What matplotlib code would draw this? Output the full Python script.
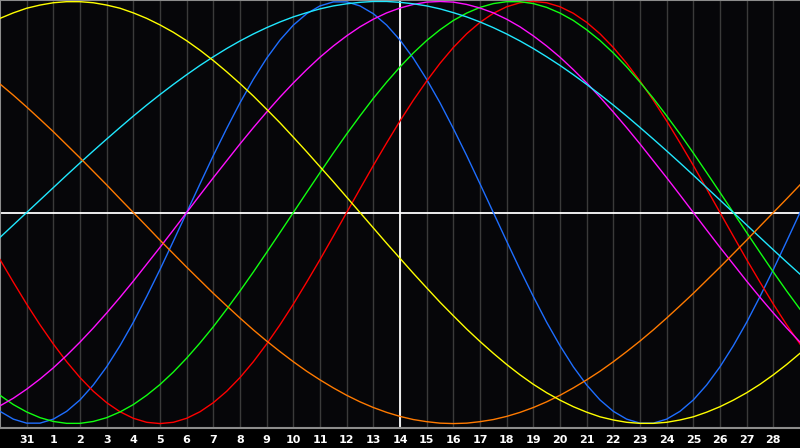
import matplotlib.pyplot as plt

# days shown under the grid (30 Jan .. 1 Mar, today is the 14th in the middle)
day_labels = ['31', '1', '2', '3', '4', '5', '6', '7', '8', '9', '10', '11', '12', '13', '14',
              '15', '16', '17', '18', '19', '20', '21', '22', '23', '24', '25', '26', '27', '28']

# cycle values read every half day, from the left edge to the right edge (61 samples)
physical = [-0.942, -0.979, -0.998, -0.998, -0.979, -0.942, -0.888, -0.817, -0.731, -0.631, -0.520, -0.398,
            -0.270, -0.136, 0.000, 0.136, 0.270, 0.398, 0.520, 0.631, 0.731, 0.817, 0.888, 0.942, 0.979, 0.998,
            0.998, 0.979, 0.942, 0.888, 0.817, 0.731, 0.631, 0.520, 0.398, 0.270, 0.136, 0.000, -0.136, -0.270,
            -0.398, -0.520, -0.631, -0.731, -0.817, -0.888, -0.942, -0.979, -0.998, -0.998, -0.979, -0.942,
            -0.888, -0.817, -0.731, -0.631, -0.520, -0.398, -0.270, -0.136, 0.000]
emotional = [-0.223, -0.330, -0.434, -0.532, -0.623, -0.707, -0.782, -0.847, -0.901, -0.944, -0.975, -0.994,
             -1.000, -0.994, -0.975, -0.944, -0.901, -0.847, -0.782, -0.707, -0.623, -0.532, -0.434, -0.330,
             -0.223, -0.112, 0.000, 0.112, 0.223, 0.330, 0.434, 0.532, 0.623, 0.707, 0.782, 0.847, 0.901, 0.944,
             0.975, 0.994, 1.000, 0.994, 0.975, 0.944, 0.901, 0.847, 0.782, 0.707, 0.623, 0.532, 0.434, 0.330,
             0.223, 0.112, 0.000, -0.112, -0.223, -0.330, -0.434, -0.532, -0.623]
intellectual = [-0.866, -0.910, -0.945, -0.972, -0.990, -0.999, -0.999, -0.990, -0.972, -0.945, -0.910, -0.866,
                -0.815, -0.756, -0.690, -0.618, -0.541, -0.458, -0.372, -0.282, -0.189, -0.095, 0.000, 0.095,
                0.189, 0.282, 0.372, 0.458, 0.541, 0.618, 0.690, 0.756, 0.815, 0.866, 0.910, 0.945, 0.972, 0.990,
                0.999, 0.999, 0.990, 0.972, 0.945, 0.910, 0.866, 0.815, 0.756, 0.690, 0.618, 0.541, 0.458, 0.372,
                0.282, 0.189, 0.095, 0.000, -0.095, -0.189, -0.282, -0.372, -0.458]
intuitive = [-0.916, -0.880, -0.837, -0.789, -0.736, -0.677, -0.614, -0.547, -0.476, -0.402, -0.325, -0.245,
             -0.165, -0.083, 0.000, 0.083, 0.165, 0.245, 0.325, 0.402, 0.476, 0.547, 0.614, 0.677, 0.736, 0.789,
             0.837, 0.880, 0.916, 0.946, 0.969, 0.986, 0.997, 1.000, 0.997, 0.986, 0.969, 0.946, 0.916, 0.880,
             0.837, 0.789, 0.736, 0.677, 0.614, 0.547, 0.476, 0.402, 0.325, 0.245, 0.165, 0.083, 0.000, -0.083,
             -0.165, -0.245, -0.325, -0.402, -0.476, -0.547, -0.614]
spiritual = [-0.118, -0.059, 0.000, 0.059, 0.118, 0.177, 0.235, 0.292, 0.348, 0.403, 0.457, 0.509, 0.559, 0.607,
             0.653, 0.697, 0.738, 0.777, 0.813, 0.846, 0.876, 0.903, 0.927, 0.947, 0.965, 0.979, 0.989, 0.996,
             1.000, 1.000, 0.996, 0.989, 0.979, 0.965, 0.947, 0.927, 0.903, 0.876, 0.846, 0.813, 0.777, 0.738,
             0.697, 0.653, 0.607, 0.559, 0.509, 0.457, 0.403, 0.348, 0.292, 0.235, 0.177, 0.118, 0.059, 0.000,
             -0.059, -0.118, -0.177, -0.235, -0.292]
awareness = [0.609, 0.556, 0.500, 0.442, 0.383, 0.321, 0.259, 0.195, 0.131, 0.065, 0.000, -0.065, -0.131, -0.195,
             -0.259, -0.321, -0.383, -0.442, -0.500, -0.556, -0.609, -0.659, -0.707, -0.752, -0.793, -0.831,
             -0.866, -0.897, -0.924, -0.947, -0.966, -0.981, -0.991, -0.998, -1.000, -0.998, -0.991, -0.981,
             -0.966, -0.947, -0.924, -0.897, -0.866, -0.831, -0.793, -0.752, -0.707, -0.659, -0.609, -0.556,
             -0.500, -0.442, -0.383, -0.321, -0.259, -0.195, -0.131, -0.065, 0.000, 0.065, 0.131]
aesthetic = [0.920, 0.946, 0.968, 0.983, 0.994, 0.999, 0.999, 0.994, 0.983, 0.968, 0.946, 0.920, 0.889, 0.854,
             0.814, 0.769, 0.720, 0.667, 0.611, 0.552, 0.489, 0.425, 0.357, 0.288, 0.217, 0.146, 0.073, 0.000,
             -0.073, -0.146, -0.217, -0.288, -0.357, -0.425, -0.489, -0.552, -0.611, -0.667, -0.720, -0.769,
             -0.814, -0.854, -0.889, -0.920, -0.946, -0.968, -0.983, -0.994, -0.999, -0.999, -0.994, -0.983,
             -0.968, -0.946, -0.920, -0.889, -0.854, -0.814, -0.769, -0.720, -0.667]

curves = [(physical, '#1e6eff'), (emotional, '#ff0000'), (intellectual, '#10ff10'),
          (intuitive, '#ff10ff'), (spiritual, '#20e8ff'), (awareness, '#ff7a00'), (aesthetic, '#ffff00')]

fig = plt.figure(figsize=(8, 4.48), dpi=100, facecolor='#000000')
ax = fig.add_axes([0, 20 / 448, 1, 428 / 448])
ax.set_facecolor('#060609')

#half-day steps on the x axis
ndays = len(day_labels) + 1
xs = [j * 0.5 for j in range(len(physical))]
ax.set_xlim(0, ndays)
ax.set_ylim(-1.021, 1.007)

#grid columns
for i in range(1, ndays):
    ax.axvline(i, color='#3a3a3a', lw=1, zorder=1)

#today and zero line
ax.axvline(ndays / 2, color='white', lw=1.3, zorder=2)
ax.axhline(0, color='white', lw=1.3, zorder=2)

for vals, col in curves:
    ax.plot(xs, vals, color=col, lw=1, zorder=3)

#day labels
for i, lab in enumerate(day_labels, start=1):
    ax.text(i, -11.5 / 428, lab, transform=ax.get_xaxis_transform(), ha='center', va='center',
            color='white', fontsize=8, fontweight='bold', clip_on=False)

ax.set_xticks([])
ax.set_yticks([])
for side in ['left', 'top', 'bottom']:
    ax.spines[side].set_color('#8c8c8c')
    ax.spines[side].set_linewidth(1.5)
ax.spines['right'].set_visible(False)

fig.savefig('out.png', dpi=100, facecolor=fig.get_facecolor())
